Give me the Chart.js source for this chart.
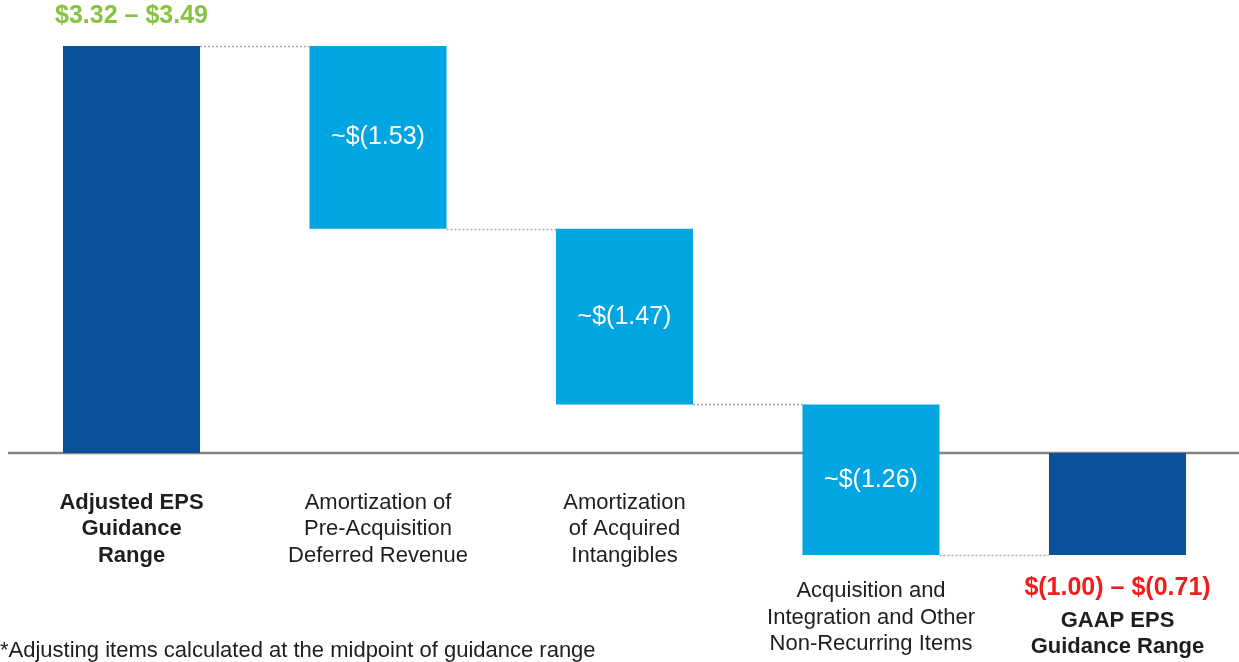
<!DOCTYPE html>
<html>
<head>
<meta charset="utf-8">
<script src="https://cdn.jsdelivr.net/npm/chart.js@4"></script>
<style>
  body { margin: 0; background: #fff; }
  #wrap { width: 1239px; height: 662px; position: relative; }
</style>
</head>
<body>
<div id="wrap"><canvas id="eps"></canvas></div>
<script>
// values (EPS, dollars)
const categories = [
  ["Adjusted EPS", "Guidance", "Range"],
  ["Amortization of", "Pre-Acquisition", "Deferred Revenue"],
  ["Amortization", "of Acquired", "Intangibles"],
  ["Acquisition and", "Integration and Other", "Non-Recurring Items"],
  ["GAAP EPS", "Guidance Range"]
];
const adjustedRange = [3.32, 3.49];
const adjustments = [-1.53, -1.47, -1.26];
const gaapRange = [-1.00, -0.71];
const valueLabels = ["$3.32 – $3.49", "~$(1.53)", "~$(1.47)", "~$(1.26)", "$(1.00) – $(0.71)"];
const footnote = "*Adjusting items calculated at the midpoint of guidance range";

const FONT = "'Liberation Sans', Arial, Helvetica, sans-serif";
const DARK = "#0a519c";
const LIGHT = "#00a5e1";

// build the waterfall from the midpoint of the adjusted range
const start = (adjustedRange[0] + adjustedRange[1]) / 2;
const bars = [[0, start]];
let running = start;
adjustments.forEach(a => {
  const next = Math.round((running + a) * 1000) / 1000;
  bars.push([next, running]);
  running = next;
});
bars.push([running, 0]);

const colors = bars.map((b, i) => (i === 0 || i === bars.length - 1) ? DARK : LIGHT);

const waterfallDecor = {
  id: "waterfallDecor",
  beforeDatasetsDraw(chart) {
    const ctx = chart.ctx;
    const y = chart.scales.y;
    const zero = y.getPixelForValue(0);
    ctx.save();
    ctx.strokeStyle = "#858585";
    ctx.lineWidth = 2.5;
    ctx.beginPath();
    ctx.moveTo(8, zero);
    ctx.lineTo(chart.width, zero);
    ctx.stroke();
    ctx.restore();
  },
  afterDatasetsDraw(chart) {
    const ctx = chart.ctx;
    const y = chart.scales.y;
    const meta = chart.getDatasetMeta(0).data;
    const zero = y.getPixelForValue(0);
    ctx.save();

    // dotted connectors between bars
    ctx.strokeStyle = "#a8a8a8";
    ctx.lineWidth = 1.5;
    ctx.setLineDash([2, 2]);
    for (let i = 0; i < meta.length - 1; i++) {
      const level = i === 0 ? bars[0][1] : bars[i][0];
      const py = Math.round(y.getPixelForValue(level)) + 0.5;
      ctx.beginPath();
      ctx.moveTo(meta[i].x + meta[i].width / 2, py);
      ctx.lineTo(meta[i + 1].x - meta[i + 1].width / 2, py);
      ctx.stroke();
    }
    ctx.setLineDash([]);

    ctx.textAlign = "center";
    ctx.textBaseline = "middle";

    // adjusted range above first bar
    ctx.fillStyle = "#86c440";
    ctx.font = "bold 25px " + FONT;
    ctx.fillText(valueLabels[0], meta[0].x, y.getPixelForValue(bars[0][1]) - 30);

    // adjustment amounts inside bars
    ctx.fillStyle = "#ffffff";
    ctx.font = "25px " + FONT;
    for (let i = 1; i < meta.length - 1; i++) {
      const mid = (y.getPixelForValue(bars[i][0]) + y.getPixelForValue(bars[i][1])) / 2;
      ctx.fillText(valueLabels[i], meta[i].x, mid);
    }

    // category labels
    const lineH = 26.5;
    meta.forEach((bar, i) => {
      const bottom = y.getPixelForValue(Math.min(bars[i][0], 0));
      let top = bars[i][0] >= 0 ? zero + 50 : bottom + 36;
      const last = i === meta.length - 1;
      const bold = i === 0 || last;
      if (last) {
        ctx.fillStyle = "#f21c1c";
        ctx.font = "bold 25px " + FONT;
        ctx.fillText(valueLabels[i], bar.x, top - 3);
        top += lineH + 3;
      }
      ctx.fillStyle = "#1e1e1e";
      ctx.font = (bold ? "bold " : "") + "22px " + FONT;
      categories[i].forEach((line, k) => ctx.fillText(line, bar.x, top + k * lineH));
    });

    // footnote
    ctx.textAlign = "left";
    ctx.fillStyle = "#1e1e1e";
    ctx.font = "22px " + FONT;
    ctx.fillText(footnote, 0, 651);
    ctx.restore();
  }
};

new Chart(document.getElementById("eps"), {
  type: "bar",
  data: {
    labels: categories.map(c => c.join(" ")),
    datasets: [{
      data: bars,
      backgroundColor: colors,
      borderWidth: 0,
      categoryPercentage: 1,
      barPercentage: 0.556,
      clip: false
    }]
  },
  options: {
    responsive: true,
    maintainAspectRatio: false,
    animation: false,
    layout: { padding: { left: 131.5, right: 121.5, top: 0, bottom: 0 } },
    plugins: { legend: { display: false }, tooltip: { enabled: false } },
    scales: {
      x: { display: false, offset: false },
      y: { display: false, min: -1.75, max: 3.79 }
    }
  },
  plugins: [waterfallDecor]
});
</script>
</body>
</html>
